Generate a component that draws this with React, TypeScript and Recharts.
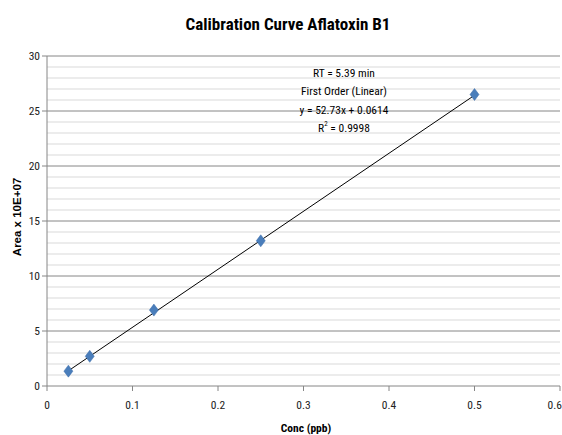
import { ScatterChart, Scatter, XAxis, YAxis, ReferenceLine } from "recharts"

const conc = [0.025, 0.05, 0.125, 0.25, 0.5]
const area = [1.35, 2.7, 6.9, 13.2, 26.5]
const trendX = [0.025, 0.5]
const trendY = [1.38, 26.43]
const xTicks = [0, 0.1, 0.2, 0.3, 0.4, 0.5, 0.6]
const yTicks = [0, 5, 10, 15, 20, 25, 30]
const yMinor = Array.from({ length: 31 }, (_, i) => i).filter((v) => v % 5 !== 0)
const notes = ["RT = 5.39 min", "First Order (Linear)", "y = 52.73x + 0.0614"]

const points = conc.map((x, i) => ({ x, y: area[i] }))
const trend = trendX.map((x, i) => ({ x, y: trendY[i] }))

const calibri = "'Liberation Sans Narrow', 'Roboto Condensed', 'Open Sans', sans-serif"
const tick = { fill: "#222", fontSize: 11.5, fontFamily: calibri }

const Diamond = (p: any) => (
  <path
    d={`M${p.cx},${p.cy - 6} L${p.cx + 4.5},${p.cy} L${p.cx},${p.cy + 6} L${p.cx - 4.5},${p.cy} Z`}
    fill="#4a7ebb" stroke="#3d6da8" strokeWidth={0.5}
  />
)

export default function App() {
  return (
    <div style={{ position: "absolute", left: 0, top: 0, width: 562, height: 435, background: "#fff", overflow: "hidden" }}>
      <div style={{ position: "absolute", top: 14, left: 0, width: 576, textAlign: "center", fontFamily: calibri, fontWeight: 700, fontSize: 17, color: "#000" }}>
        Calibration Curve Aflatoxin B1
      </div>
      <ScatterChart width={562} height={435} margin={{ top: 56, right: 2, bottom: 0, left: 0 }}>
        {yMinor.map((v) => (
          <ReferenceLine key={v} y={v} stroke="#d9d9d9" strokeWidth={1} />
        ))}
        {yTicks.slice(1).map((v) => (
          <ReferenceLine key={"m" + v} y={v} stroke="#868686" strokeWidth={1} />
        ))}
        <XAxis
          type="number" dataKey="x" domain={[0, 0.6]} ticks={xTicks} height={49}
          tick={tick} tickLine={{ stroke: "#868686" }} axisLine={{ stroke: "#868686" }}
          tickSize={5} tickMargin={10} allowDataOverflow
        />
        <YAxis
          type="number" dataKey="y" domain={[0, 30]} ticks={yTicks} width={47}
          tick={tick} tickLine={{ stroke: "#868686" }} axisLine={{ stroke: "#868686" }}
          tickSize={5} tickMargin={2}
        />
        <Scatter data={trend} line={{ stroke: "#000", strokeWidth: 1 }} shape={() => null} isAnimationActive={false} />
        <Scatter data={points} shape={Diamond} isAnimationActive={false} />
      </ScatterChart>
      <div style={{ position: "absolute", left: 4, top: 217, width: 26, display: "flex", justifyContent: "center", transform: "translate(0,-50%) rotate(-90deg)", fontFamily: "'Liberation Sans', Arial, sans-serif", fontWeight: 700, fontSize: 11.5, whiteSpace: "nowrap" }}>
        <span>Area x 10E+07</span>
      </div>
      <div style={{ position: "absolute", top: 421, left: 206, width: 200, textAlign: "center", fontFamily: calibri, fontWeight: 700, fontSize: 11.5, color: "#000" }}>
        Conc (ppb)
      </div>
      <div style={{ position: "absolute", top: 64, left: 244, width: 200, textAlign: "center", fontFamily: calibri, fontSize: 11.5, lineHeight: "18.3px", color: "#000" }}>
        {notes.map((n) => (
          <div key={n}>{n}</div>
        ))}
        <div>R<sup style={{ fontSize: 7, verticalAlign: "top", lineHeight: "10px" }}>2</sup> = 0.9998</div>
      </div>
    </div>
  )
}
